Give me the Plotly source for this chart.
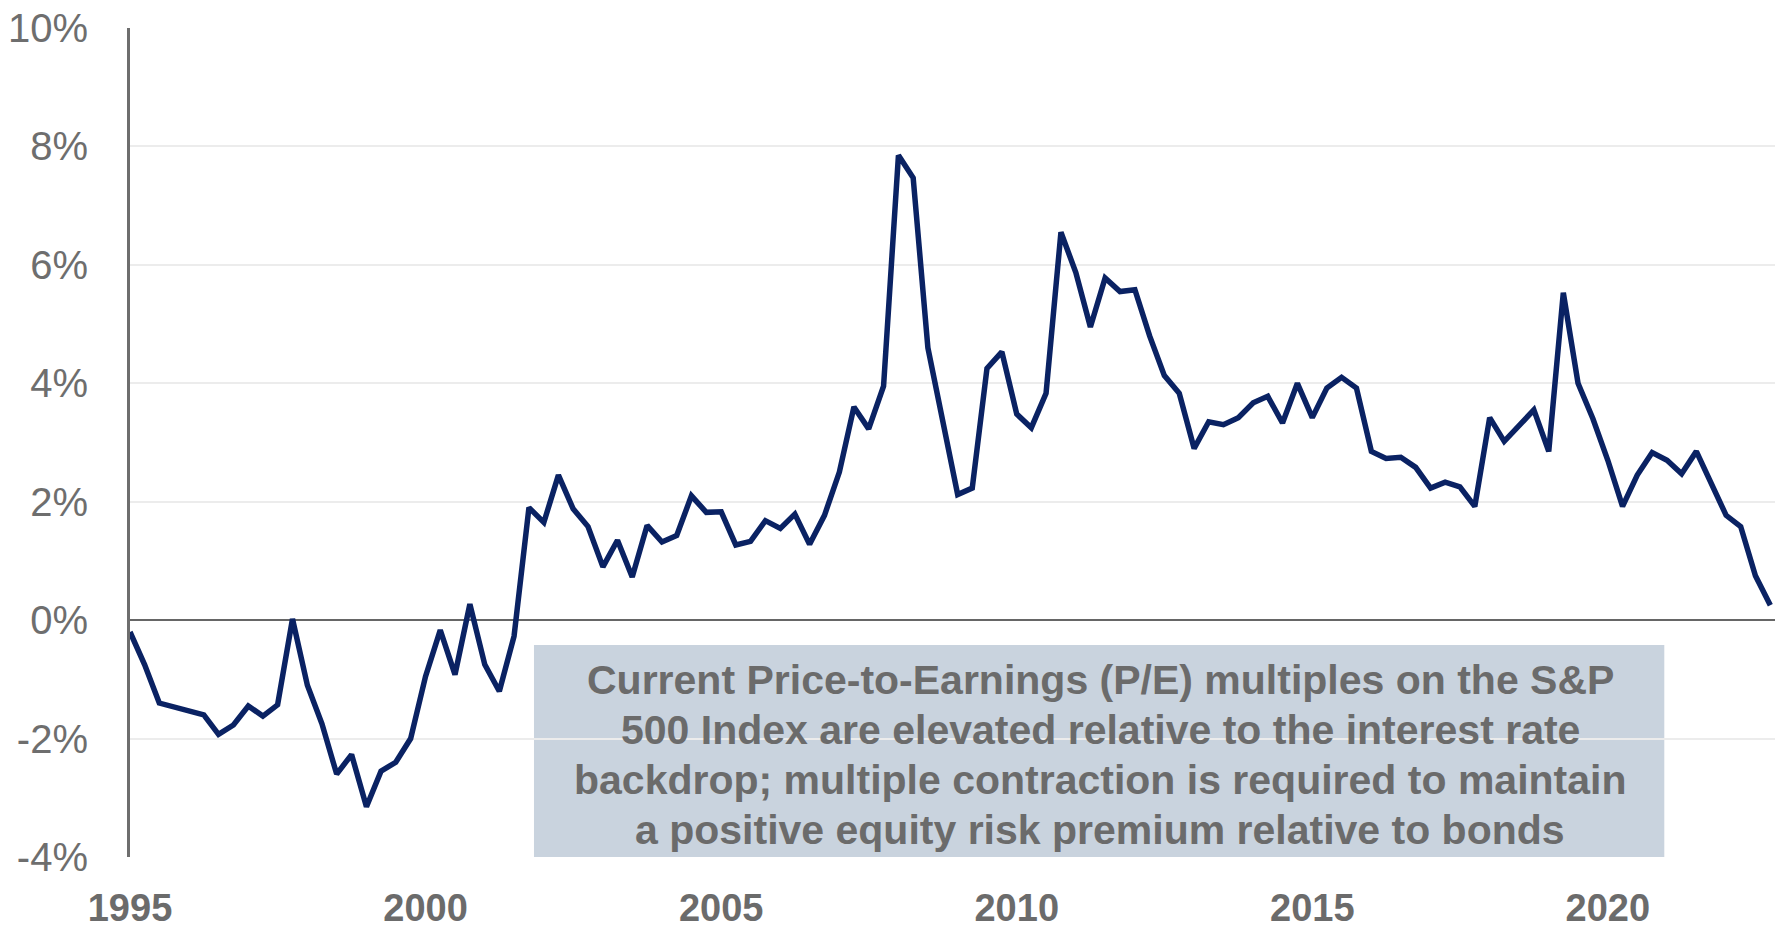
import pandas as pd
import plotly.graph_objects as go

# Quarterly observations, Q1 1995 .. Q4 2022 (in %)
quarters = pd.date_range("1995-01-01", periods=112, freq="QS").strftime("%Y-%m-%d").tolist()
erp_values = [
    -0.20, -0.75, -1.40, -1.47,
    -1.55, -1.60, -1.93, -1.77,
    -1.45, -1.62, -1.43, 0.02,
    -1.10, -1.75, -2.60, -2.27,
    -3.15, -2.55, -2.40, -2.00,
    -0.95, -0.17, -0.92, 0.27,
    -0.75, -1.20, -0.27, 1.90,
    1.65, 2.45, 1.88, 1.58,
    0.90, 1.35, 0.73, 1.60,
    1.32, 1.43, 2.10, 1.82,
    1.83, 1.27, 1.33, 1.68,
    1.55, 1.79, 1.28, 1.77,
    2.50, 3.60, 3.23, 3.95,
    7.85, 7.47, 4.60, 3.30,
    2.12, 2.23, 4.25, 4.53,
    3.48, 3.25, 3.83, 6.55,
    5.87, 4.95, 5.78, 5.55,
    5.58, 4.80, 4.13, 3.83,
    2.90, 3.35, 3.30, 3.42,
    3.67, 3.78, 3.33, 4.00,
    3.42, 3.92, 4.10, 3.92,
    2.85, 2.73, 2.75, 2.58,
    2.23, 2.33, 2.25, 1.92,
    3.42, 3.02, 3.28, 3.55,
    2.85, 5.53, 4.00, 3.40,
    2.70, 1.92, 2.45, 2.83,
    2.70, 2.47, 2.85, 2.30,
    1.77, 1.58, 0.75, 0.25,
]

x_tick_vals = ["1995-01-01", "2000-01-01", "2005-01-01", "2010-01-01", "2015-01-01", "2020-01-01"]
x_tick_text = ["1995", "2000", "2005", "2010", "2015", "2020"]
y_tick_vals = [-4, -2, 0, 2, 4, 6, 8, 10]
y_tick_text = ["-4%", "-2%", "0%", "2%", "4%", "6%", "8%", "10%"]

note_lines = [
    "Current Price-to-Earnings (P/E) multiples on the S&P",
    "500 Index are elevated relative to the interest rate",
    "backdrop; multiple contraction is required to maintain",
    "a positive equity risk premium relative to bonds",
]

fig = go.Figure()
fig.add_trace(go.Scatter(
    x=quarters, y=erp_values, mode="lines",
    line=dict(color="#0a2263", width=5.5),
    showlegend=False, hoverinfo="skip",
))

# annotation box
fig.add_shape(type="rect", xref="x", yref="y",
              x0="2001-11-01", x1="2020-12-15", y0=-4.02, y1=-0.42,
              fillcolor="#c9d3de", line=dict(width=0), layer="below")
for i, line in enumerate(note_lines):
    fig.add_annotation(x="2011-06-01", y=-1.01 - i * 0.845, xref="x", yref="y",
                       text=line, showarrow=False, align="center",
                       font=dict(family="Arial, Liberation Sans, sans-serif", size=41,
                                 color="#6b6b6b", weight="bold"))

fig.update_layout(
    width=1775, height=930,
    margin=dict(l=130, r=0, t=28, b=73),
    paper_bgcolor="white", plot_bgcolor="white",
    font=dict(family="Arial, Liberation Sans, sans-serif", color="#6e6e6e"),
)
fig.update_xaxes(
    type="date", range=["1995-01-01", "2022-10-30"],
    tickvals=x_tick_vals, ticktext=x_tick_text,
    showgrid=False, zeroline=False, showline=False,
    tickfont=dict(size=38, color="#6b6b6b", weight="bold"),
    ticks="", ticklabelstandoff=25, automargin=False,
)
fig.update_yaxes(
    range=[-4, 10], tickvals=y_tick_vals, ticktext=y_tick_text,
    showgrid=True, gridcolor="#ececec", gridwidth=2,
    zeroline=True, zerolinecolor="#666666", zerolinewidth=2,
    showline=True, linecolor="#6e6e6e", linewidth=3,
    tickfont=dict(size=40, color="#6e6e6e"),
    ticks="", ticklabelstandoff=31, automargin=False,
)

fig.write_html("out.html", config={"displayModeBar": False},
               post_script="document.body.style.margin='0';document.body.style.overflow='hidden';")
